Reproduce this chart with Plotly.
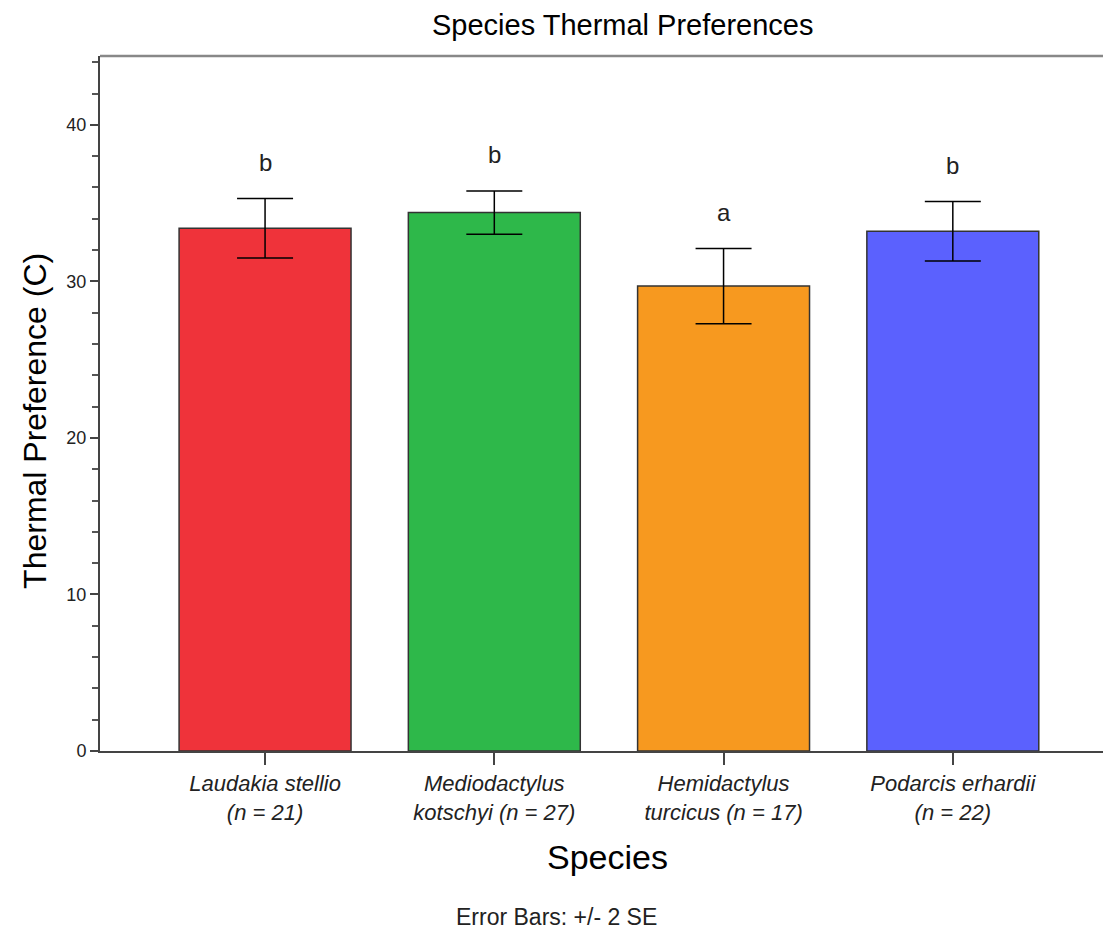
import plotly.graph_objects as go

species = ["Laudakia stellio", "Mediodactylus kotschyi", "Hemidactylus turcicus", "Podarcis erhardii"]
tick_labels = ["<i>Laudakia stellio<br>(n = 21)</i>",
               "<i>Mediodactylus<br>kotschyi (n = 27)</i>",
               "<i>Hemidactylus<br>turcicus (n = 17)</i>",
               "<i>Podarcis erhardii<br>(n = 22)</i>"]
means = [33.4, 34.4, 29.7, 33.2]
err_2se = [1.9, 1.38, 2.4, 1.9]
letters = ["b", "b", "a", "b"]
colors = ["#EF333A", "#2EB84A", "#F7991F", "#5B61FE"]

fig = go.Figure()
fig.add_trace(go.Bar(
    x=species, y=means, width=0.75,
    marker=dict(color=colors, line=dict(color="#333333", width=1.5)),
    error_y=dict(type="data", array=err_2se, visible=True, color="black", thickness=1.5, width=28),
    showlegend=False,
))

for s, m, e, l in zip(species, means, err_2se, letters):
    fig.add_annotation(x=s, y=m + e, text=l, showarrow=False, yanchor="middle", yshift=36,
                       font=dict(family="Liberation Sans, Arial", size=24, color="#222"))

fig.add_annotation(text="Species Thermal Preferences", xref="paper", yref="paper",
                   x=0.517, y=1, yshift=31, showarrow=False, yanchor="middle",
                   font=dict(family="Liberation Sans, Arial", size=29, color="black"))
fig.add_annotation(text="Thermal Preference (C)", xref="paper", yref="paper",
                   x=0, xshift=-65, y=0.475, textangle=-90, showarrow=False, xanchor="center",
                   font=dict(family="Liberation Sans, Arial", size=32, color="black"))
fig.add_annotation(text="Species", xref="paper", yref="paper",
                   x=0.502, y=0, yshift=-106, showarrow=False, yanchor="middle",
                   font=dict(family="Liberation Sans, Arial", size=34, color="black"))
fig.add_annotation(text="Error Bars: +/- 2 SE", xref="paper", yref="paper",
                   x=0.452, y=0, yshift=-166, showarrow=False, yanchor="middle",
                   font=dict(family="Liberation Sans, Arial", size=23, color="#222"))

fig.add_shape(type="line", xref="paper", yref="paper", x0=0, x1=1, y0=1, y1=1,
              line=dict(color="#888888", width=2.5))

fig.update_layout(
    width=1103, height=928,
    margin=dict(l=92, r=0, t=48, b=185),
    plot_bgcolor="white", paper_bgcolor="white",
    xaxis=dict(
        range=[-0.72, 3.69], showgrid=False, showline=True, linecolor="#444", linewidth=2,
        ticks="outside", ticklen=12, tickwidth=2, tickcolor="#444",
        tickvals=species, ticktext=tick_labels,
        tickfont=dict(family="Liberation Sans, Arial", size=22, color="#222"),
    ),
    yaxis=dict(
        range=[0, 44.4], showgrid=False, zeroline=False, showline=True, linecolor="#444", linewidth=2,
        ticks="outside", ticklen=8, tickwidth=2, tickcolor="#444",
        tickvals=[0, 10, 20, 30, 40],
        tickfont=dict(family="Liberation Sans, Arial", size=18, color="#222"),
        minor=dict(dtick=2, ticks="outside", ticklen=6, tickwidth=2, tickcolor="#555"),
    ),
)

fig.write_html("out.html")
